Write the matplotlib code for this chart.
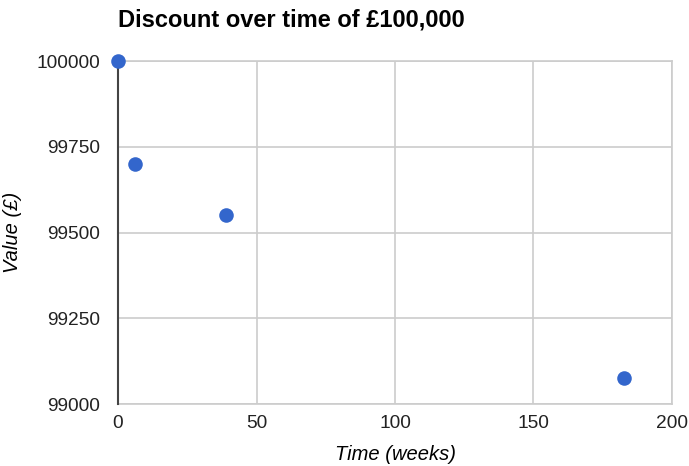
import matplotlib
matplotlib.use("Agg")
import matplotlib.pyplot as plt

# Value of £100,000 at each point in time
weeks = [0, 6, 39, 182.5]
values = [100000, 99700, 99550, 99075]

x_ticks = [0, 50, 100, 150, 200]
y_ticks = [99000, 99250, 99500, 99750, 100000]

plt.rcParams["font.family"] = ["Liberation Sans", "DejaVu Sans"]

fig = plt.figure(figsize=(6.89, 4.66), dpi=100)
ax = fig.add_axes([0.1713, 0.133, 0.804, 0.736])

ax.scatter(weeks, values, s=110, color="#3366cc", zorder=5, clip_on=False,
           linewidths=0)

ax.set_xlim(0, 200)
ax.set_ylim(99000, 100000)
ax.set_xticks(x_ticks)
ax.set_yticks(y_ticks)
ax.set_yticklabels([str(v) for v in y_ticks])

ax.grid(True, color="#cccccc", linewidth=1.2)
ax.set_axisbelow(True)
for side in ("top", "right", "bottom"):
    ax.spines[side].set_color("#cccccc")
    ax.spines[side].set_linewidth(1.2)
ax.spines["left"].set_color("#444444")
ax.spines["left"].set_linewidth(1.5)
ax.spines["left"].set_zorder(4)

ax.tick_params(axis="both", length=0, labelsize=13.8, colors="#222222")
ax.tick_params(axis="x", pad=8)
ax.tick_params(axis="y", pad=13)

ax.set_xlabel("Time (weeks)", fontsize=14.5, fontstyle="italic", labelpad=9)
ax.set_ylabel("Value (£)", fontsize=14.5, fontstyle="italic", labelpad=10)

fig.text(0.1713, 0.957, "Discount over time of £100,000", fontsize=17,
         fontweight="bold", ha="left", va="center")

fig.savefig("out.png", dpi=100, facecolor="white")
